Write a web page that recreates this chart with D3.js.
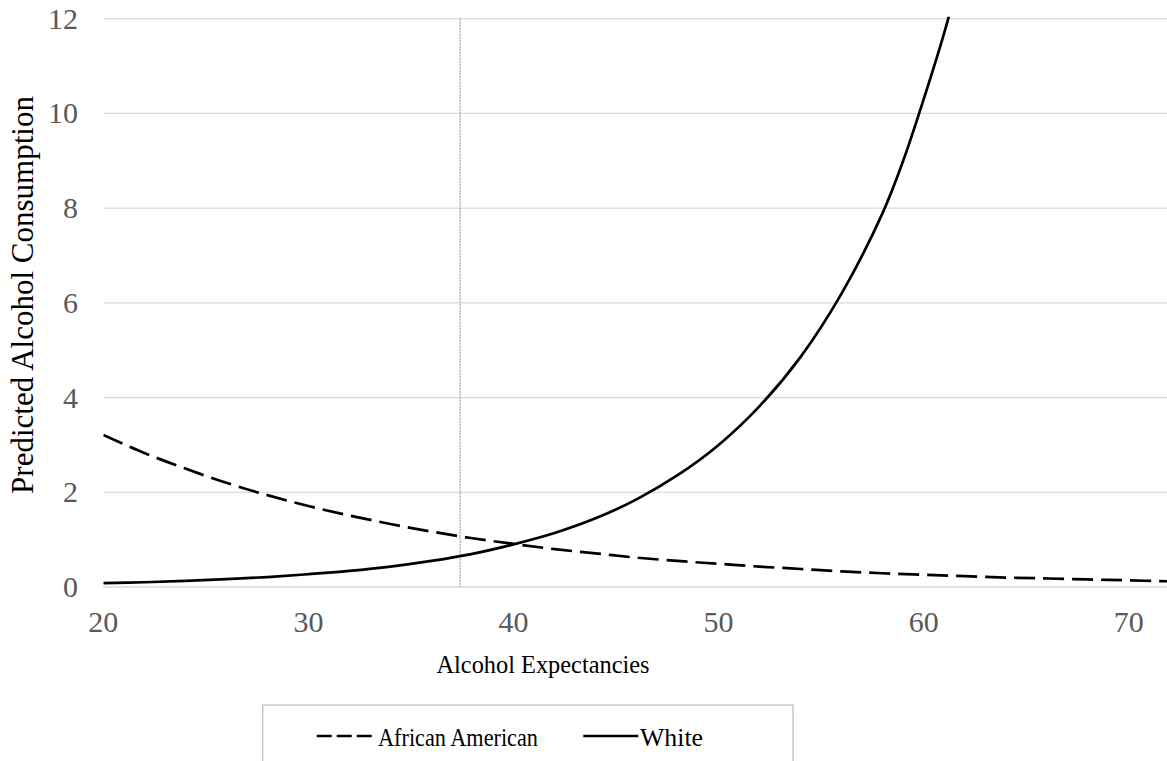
<!DOCTYPE html>
<html>
<head>
<meta charset="utf-8">
<script src="https://cdn.jsdelivr.net/npm/d3@7"></script>
<style>
    body { margin: 0; background: #fff; }
    svg text { font-family: "Liberation Serif", "Tinos", "Times New Roman", "DejaVu Serif", serif; }
</style>
</head>
<body>
<div id="chart"></div>
<script>
// Values (x = alcohol expectancies)
const africanX = [20, 22, 24, 26, 28, 30, 32, 34, 36, 38, 40, 42, 44, 46, 48, 50, 52, 54, 56, 58, 60, 62, 64, 66, 68, 70, 72];
const africanY = [3.21, 2.83, 2.50, 2.20, 1.94, 1.71, 1.51, 1.33, 1.17, 1.03, 0.91, 0.80, 0.71, 0.62, 0.55, 0.49, 0.43, 0.38, 0.33, 0.29, 0.26, 0.23, 0.20, 0.18, 0.16, 0.14, 0.12];
const whiteX = [20, 22, 24, 26, 28, 30, 32, 34, 36, 38, 40, 42, 44, 46, 48, 50, 52, 54, 56, 58, 59, 60, 61, 62];
const whiteY = [0.08, 0.10, 0.13, 0.165, 0.21, 0.27, 0.34, 0.43, 0.55, 0.70, 0.90, 1.14, 1.45, 1.85, 2.36, 3.00, 3.82, 4.86, 6.20, 7.90, 9.00, 10.3, 11.7, 13.3];
const xTicks = [20, 30, 40, 50, 60, 70];
const yTicks = [0, 2, 4, 6, 8, 10, 12];
const refLineX = 37.4; // vertical reference line
const seriesNames = ["African American", "White"];

const width = 1167, height = 761;
const plotLeft = 103.3, plotTop = 18.7, plotBottom = 587;

const x = d3.scaleLinear().domain([20, 72]).range([plotLeft, plotLeft + 52 * 20.51]);
const y = d3.scaleLinear().domain([0, 12]).range([plotBottom, plotTop]);

const svg = d3.select("#chart").append("svg")
    .attr("width", width)
    .attr("height", height);

svg.append("defs").append("clipPath")
    .attr("id", "plot")
    .append("rect")
    .attr("x", plotLeft).attr("y", plotTop - 2)
    .attr("width", width - plotLeft).attr("height", plotBottom - plotTop + 4);

// gridlines
svg.selectAll(".grid")
    .data(yTicks)
    .enter()
    .append("line")
    .attr("x1", plotLeft).attr("x2", width)
    .attr("y1", d => y(d)).attr("y2", d => y(d))
    .attr("stroke", "#d9d9d9")
    .attr("stroke-width", 1.3);

// y tick labels
svg.selectAll(".ytick")
    .data(yTicks)
    .enter()
    .append("text")
    .attr("x", 78)
    .attr("y", d => y(d) + 10)
    .attr("text-anchor", "end")
    .style("font-size", "30px")
    .style("fill", "#595959")
    .text(d => d);

// x tick labels
svg.selectAll(".xtick")
    .data(xTicks)
    .enter()
    .append("text")
    .attr("x", d => x(d))
    .attr("y", 632)
    .attr("text-anchor", "middle")
    .style("font-size", "30px")
    .style("fill", "#595959")
    .text(d => d);

// dotted reference line
svg.append("line")
    .attr("x1", x(refLineX)).attr("x2", x(refLineX))
    .attr("y1", plotTop).attr("y2", plotBottom)
    .attr("stroke", "#a6a6a6")
    .attr("stroke-width", 1.3)
    .attr("stroke-dasharray", "2,1");

const line = d3.line()
    .x(d => x(d[0]))
    .y(d => y(d[1]))
    .curve(d3.curveCatmullRom.alpha(0.5));

const plot = svg.append("g").attr("clip-path", "url(#plot)");

plot.append("path")
    .datum(africanX.map((v, i) => [v, africanY[i]]))
    .attr("d", line)
    .attr("fill", "none")
    .attr("stroke", "#000")
    .attr("stroke-width", 2.7)
    .attr("stroke-dasharray", "21,8");

plot.append("path")
    .datum(whiteX.map((v, i) => [v, whiteY[i]]))
    .attr("d", line)
    .attr("fill", "none")
    .attr("stroke", "#000")
    .attr("stroke-width", 2.7);

// axis titles
svg.append("text")
    .attr("x", 543)
    .attr("y", 673)
    .attr("text-anchor", "middle")
    .style("font-size", "26px")
    .attr("textLength", 213)
    .attr("lengthAdjust", "spacingAndGlyphs")
    .text("Alcohol Expectancies");

svg.append("text")
    .attr("transform", "translate(33,295) rotate(-90)")
    .attr("text-anchor", "middle")
    .style("font-size", "31px")
    .text("Predicted Alcohol Consumption");

// legend
svg.append("rect")
    .attr("x", 262.7).attr("y", 705)
    .attr("width", 530.3).attr("height", 80)
    .attr("fill", "#fff")
    .attr("stroke", "#bfbfbf")
    .attr("stroke-width", 1.3);

const legendItems = [
    { name: seriesNames[0], x1: 316.7, x2: 373, tx: 378, dash: "15,5", len: 160 },
    { name: seriesNames[1], x1: 583.3, x2: 638.3, tx: 640, dash: null, len: 63 }
];

const lg = svg.selectAll(".legend")
    .data(legendItems)
    .enter()
    .append("g");

lg.append("line")
    .attr("x1", d => d.x1).attr("x2", d => d.x2)
    .attr("y1", 736).attr("y2", 736)
    .attr("stroke", "#000")
    .attr("stroke-width", 2.7)
    .attr("stroke-dasharray", d => d.dash);

lg.append("text")
    .attr("x", d => d.tx)
    .attr("y", 746)
    .style("font-size", "26px")
    .attr("textLength", d => d.len)
    .attr("lengthAdjust", "spacingAndGlyphs")
    .text(d => d.name);
</script>
</body>
</html>
